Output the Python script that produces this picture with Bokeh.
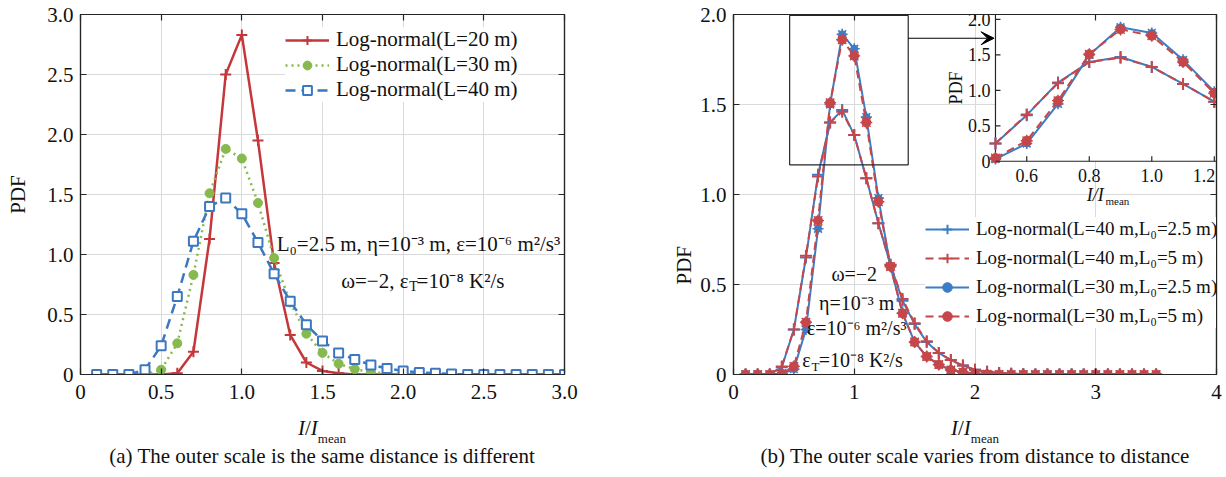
import numpy as np
from bokeh.plotting import figure
from bokeh.layouts import row, column
from bokeh.models import (Range1d, LinearAxis, FixedTicker, CustomJSTickFormatter,
                          Legend, LegendItem, Label, BoxAnnotation, Arrow, VeeHead,
                          Title, Div)
from bokeh.embed import file_html
from bokeh.resources import INLINE

FONT = "Liberation Serif"
INK = "#262626"

# ---------------- data: panel (a) ----------------
xa = [0.1, 0.2, 0.3, 0.4, 0.5, 0.6, 0.7, 0.8, 0.9, 1.0,
      1.1, 1.2, 1.3, 1.4, 1.5, 1.6, 1.7, 1.8, 1.9, 2.0,
      2.1, 2.2, 2.3, 2.4, 2.5, 2.6, 2.7, 2.8, 2.9, 3.0]
pdf_L20 = [0, 0, 0, 0, 0, 0.01, 0.19, 1.13, 2.50, 2.83,
           1.95, 0.93, 0.33, 0.10, 0.03, 0.01, 0, 0, 0, 0,
           0, 0, 0, 0, 0, 0, 0, 0, 0, 0]
pdf_L30 = [0, 0, 0, 0, 0.04, 0.26, 0.83, 1.51, 1.88, 1.80,
           1.43, 0.97, 0.60, 0.34, 0.18, 0.09, 0.045, 0.02, 0.01, 0.005,
           0, 0, 0, 0, 0, 0, 0, 0, 0, 0]
pdf_L40 = [0, 0, 0, 0.04, 0.24, 0.65, 1.11, 1.40, 1.47, 1.34,
           1.10, 0.84, 0.61, 0.415, 0.28, 0.18, 0.125, 0.08, 0.05, 0.03,
           0.017, 0.01, 0.005, 0, 0, 0, 0, 0, 0, 0]
labels_a = ["Log-normal(L=20 m)", "Log-normal(L=30 m)", "Log-normal(L=40 m)"]
ticks_a = [0, 0.5, 1.0, 1.5, 2.0, 2.5, 3.0]
caption_a = "(a) The outer scale is the same distance is different"
note_a1 = "L\u2080=2.5 m, \u03b7=10\u207b\u00b3 m, \u03b5=10\u207b\u2076 m\u00b2/s\u00b3"
note_a2 = ["\u03c9=\u22122, \u03b5", "T", "=10\u207b\u2078 K\u00b2/s"]

# ---------------- data: panel (b) ----------------
xb = [0.1, 0.2, 0.3, 0.4, 0.5, 0.6, 0.7, 0.8, 0.9, 1.0,
      1.1, 1.2, 1.3, 1.4, 1.5, 1.6, 1.7, 1.8, 1.9, 2.0,
      2.1, 2.2, 2.3, 2.4, 2.5, 2.6, 2.7, 2.8, 2.9, 3.0,
      3.1, 3.2, 3.3, 3.4, 3.5]
pdf_L40_L025 = [0, 0, 0, 0.04, 0.25, 0.65, 1.11, 1.40, 1.47, 1.33,
                1.09, 0.84, 0.61, 0.41, 0.28, 0.18, 0.12, 0.08, 0.05, 0.026,
                0.015, 0.008, 0.004, 0.002, 0, 0, 0, 0, 0, 0,
                0, 0, 0, 0, 0]
pdf_L40_L05 = [0, 0, 0, 0.045, 0.25, 0.66, 1.10, 1.40, 1.46, 1.33,
               1.09, 0.84, 0.61, 0.42, 0.285, 0.185, 0.12, 0.08, 0.05, 0.027,
               0.015, 0.008, 0.004, 0.002, 0, 0, 0, 0, 0, 0,
               0, 0, 0, 0, 0]
pdf_L30_L025 = [0, 0, 0, 0.003, 0.03, 0.25, 0.81, 1.50, 1.89, 1.81,
                1.43, 0.98, 0.60, 0.34, 0.18, 0.10, 0.055, 0.025, 0.012, 0.005,
                0.002, 0, 0, 0, 0, 0, 0, 0, 0, 0,
                0, 0, 0, 0, 0]
pdf_L30_L05 = [0, 0, 0, 0.005, 0.045, 0.29, 0.855, 1.51, 1.86, 1.77,
               1.40, 0.96, 0.60, 0.34, 0.18, 0.10, 0.055, 0.025, 0.012, 0.005,
               0.002, 0, 0, 0, 0, 0, 0, 0, 0, 0,
               0, 0, 0, 0, 0]
labels_b = ["Log-normal(L=40 m,L\u2080=2.5 m)", "Log-normal(L=40 m,L\u2080=5 m)",
            "Log-normal(L=30 m,L\u2080=2.5 m)", "Log-normal(L=30 m,L\u2080=5 m)"]
xticks_b = [0, 1, 2, 3, 4]
yticks_b = [0, 0.5, 1.0, 1.5, 2.0]
inset_xticks = [0.6, 0.8, 1.0, 1.2]
inset_yticks = [0, 0.5, 1.0, 1.5, 2.0]
inset_xlim = (0.5, 1.2)
caption_b = "(b) The outer scale varies from distance to distance"
notes_b = ["\u03c9=\u22122", "\u03b7=10\u207b\u00b3 m", "\u03b5=10\u207b\u2076 m\u00b2/s\u00b3"]
note_b4 = ["\u03b5", "T", "=10\u207b\u2078 K\u00b2/s"]

RED = "#C4373B"
GREEN = "#86B94E"
BLUE = "#3B78C0"
BL2 = "#3D7DC5"
RD2 = "#C5474A"

fmt1 = CustomJSTickFormatter(code="return tick == 0 ? '0' : tick.toFixed(1);")
fmt0 = CustomJSTickFormatter(code="return tick.toFixed(0);")
blank = CustomJSTickFormatter(code="return '';")

FIG_H = 416


def make_fig(w, h, xr, yr, bl, br, bt, bb):
    p = figure(width=w, height=h, x_range=Range1d(*xr), y_range=Range1d(*yr),
               output_backend="svg", toolbar_location=None,
               min_border_left=bl, min_border_right=br,
               min_border_top=bt, min_border_bottom=bb)
    p.outline_line_color = INK
    p.outline_line_width = 1.2
    p.background_fill_color = "white"
    p.border_fill_color = "white"
    return p


def cfg_axis(ax, ticks, fmt, size="21px"):
    ax.ticker = FixedTicker(ticks=ticks)
    ax.formatter = fmt
    ax.major_tick_in = 6
    ax.major_tick_out = 0
    ax.minor_tick_line_color = None
    ax.axis_line_color = INK
    ax.axis_line_width = 1.2
    ax.major_tick_line_color = INK
    ax.major_tick_line_width = 1.2
    ax.major_label_text_font = FONT
    ax.major_label_text_font_size = size
    ax.major_label_text_color = "#111111"
    ax.major_label_standoff = 10


def add_mirror(p, xt, yt):
    top = LinearAxis()
    cfg_axis(top, xt, blank, "1px")
    top.major_label_standoff = 0
    p.add_layout(top, "above")
    right = LinearAxis()
    cfg_axis(right, yt, blank, "1px")
    right.major_label_standoff = 0
    p.add_layout(right, "right")


def grid(p, xt, yt):
    p.xgrid.ticker = FixedTicker(ticks=xt)
    p.ygrid.ticker = FixedTicker(ticks=yt)
    for g in (p.xgrid, p.ygrid):
        g.grid_line_color = "#dadada"
        g.grid_line_width = 1


def lab(p, x, y, text, size="21px", align="center", style="normal", angle=0,
        base="middle", xr="default", yr="default"):
    p.add_layout(Label(x=x, y=y, text=text, text_font=FONT, text_font_size=size,
                       text_align=align, text_baseline=base, text_font_style=style,
                       text_color="#111111", angle=angle,
                       x_range_name=xr, y_range_name=yr))


# =============== panel (a) ===============
pa = make_fig(620, FIG_H, (0, 3), (0, 3), 80, 56, 14, FIG_H - 14 - 363)
cfg_axis(pa.xaxis[0], ticks_a, fmt1)
cfg_axis(pa.yaxis[0], ticks_a, fmt1)
pa.yaxis[0].major_label_standoff = 7
pa.yaxis[0].axis_label = "PDF"
pa.yaxis[0].axis_label_text_font = FONT
pa.yaxis[0].axis_label_text_font_size = "21px"
pa.yaxis[0].axis_label_text_font_style = "normal"
pa.yaxis[0].axis_label_text_color = "#111111"
pa.yaxis[0].axis_label_standoff = 14
grid(pa, ticks_a, ticks_a)
add_mirror(pa, ticks_a, ticks_a)

r20 = pa.line(xa, pdf_L20, line_color=RED, line_width=2.5)
m20 = pa.scatter(xa, pdf_L20, marker="cross", size=11, line_color=RED, line_width=2)
r30 = pa.line(xa, pdf_L30, line_color=GREEN, line_width=2.5, line_dash="2 4")
m30 = pa.scatter(xa, pdf_L30, marker="circle", size=9, fill_color=GREEN, line_color=GREEN)
r40 = pa.line(xa, pdf_L40, line_color=BLUE, line_width=2.5, line_dash="10 6")
m40 = pa.scatter(xa, pdf_L40, marker="square", size=9, fill_color="white",
                 line_color=BLUE, line_width=2)

leg_a = Legend(items=[LegendItem(label=labels_a[0], renderers=[r20, m20]),
                      LegendItem(label=labels_a[1], renderers=[r30, m30]),
                      LegendItem(label=labels_a[2], renderers=[r40, m40])],
               location=(205, 272), padding=4, spacing=-3, margin=0,
               glyph_width=44, glyph_height=22, label_height=22, label_standoff=7,
               label_text_font=FONT, label_text_font_size="21px",
               label_text_color="#111111",
               border_line_color=None, background_fill_color="white",
               background_fill_alpha=1.0)
pa.add_layout(leg_a)

lab(pa, 2.095, 1.09, note_a1)
lab(pa, 2.033, 0.78, note_a2[0], align="right")
lab(pa, 2.038, 0.735, note_a2[1], size="14px", align="left")
lab(pa, 2.083, 0.78, note_a2[2], align="left")

# =============== panel (b) ===============
pb = make_fig(606, FIG_H, (0, 4), (0, 2), 113, 10, 14, FIG_H - 14 - 360)
cfg_axis(pb.xaxis[0], xticks_b, fmt0)
cfg_axis(pb.yaxis[0], yticks_b, fmt1)
pb.yaxis[0].major_label_standoff = 7
grid(pb, [1, 2, 3], [0.5, 1.0, 1.5])
add_mirror(pb, xticks_b, yticks_b)
pb.add_layout(Title(text="PDF", align="left", offset=90, vertical_align="bottom",
                    text_font=FONT, text_font_size="21px", text_font_style="normal",
                    text_color="#111111", standoff=4), "left")

# inset coordinate system mapped into the upper-right corner of the frame
IX_HI = 1.207
IY_HI = 2.07
pb.extra_x_ranges = {"ix": Range1d(-0.338, IX_HI)}
pb.extra_y_ranges = {"iy": Range1d(-3.008, IY_HI)}


def draw_b(p, x, ys, xr="default", yr="default"):
    kw = dict(x_range_name=xr, y_range_name=yr)
    a, b, c, d = ys
    ra = p.line(x, a, line_color=BL2, line_width=2, **kw)
    ma = p.scatter(x, a, marker="cross", size=12, line_color=BL2, line_width=2, **kw)
    rb = p.line(x, b, line_color=RD2, line_width=2, line_dash="8 5", **kw)
    mb = p.scatter(x, b, marker="cross", size=12, line_color=RD2, line_width=2, **kw)
    rc = p.line(x, c, line_color=BL2, line_width=2, **kw)
    mc1 = p.scatter(x, c, marker="circle", size=7, fill_color=BL2, line_color=BL2, **kw)
    mc2 = p.scatter(x, c, marker="asterisk", size=11, line_color=BL2, line_width=1.6, **kw)
    rd = p.line(x, d, line_color=RD2, line_width=2, line_dash="8 5", **kw)
    md1 = p.scatter(x, d, marker="circle", size=9, fill_color=RD2, line_color=RD2, **kw)
    md2 = p.scatter(x, d, marker="asterisk", size=12, line_color=RD2, line_width=1.4, **kw)
    return [[ra, ma], [rb, mb], [rc, mc1, mc2], [rd, md1, md2]]


series_b = [pdf_L40_L025, pdf_L40_L05, pdf_L30_L025, pdf_L30_L05]
groups = draw_b(pb, xb, series_b)

# zoom box + arrow
pb.add_layout(BoxAnnotation(left=0.465, right=1.447, bottom=1.165, top=1.995,
                            fill_color=None, fill_alpha=0, line_color=INK, line_width=1.2,
                            line_alpha=1))
pb.add_layout(Arrow(end=VeeHead(size=13, fill_color="black", line_color="black"),
                    x_start=1.447, y_start=1.868, x_end=2.158, y_end=1.868,
                    line_color="black", line_width=1.2))

# inset
xb_arr = np.array(xb)
mask = (xb_arr >= inset_xlim[0] - 1e-9) & (xb_arr <= inset_xlim[1] + 1e-9)
pb.quad(left=[inset_xlim[0]], right=[IX_HI], bottom=[0], top=[IY_HI],
        fill_color="white", line_color=INK, line_width=1.2,
        x_range_name="ix", y_range_name="iy")
draw_b(pb, xb_arr[mask], [np.array(s)[mask] for s in series_b], "ix", "iy")
tx = 5 / 312.5
ty = 5 / 70.5
pb.segment(x0=inset_xticks, y0=[0] * len(inset_xticks), x1=inset_xticks,
           y1=[ty] * len(inset_xticks), line_color=INK, line_width=1.2,
           x_range_name="ix", y_range_name="iy")
pb.segment(x0=[inset_xlim[0]] * len(inset_yticks), y0=inset_yticks,
           x1=[inset_xlim[0] + tx] * len(inset_yticks), y1=inset_yticks,
           line_color=INK, line_width=1.2, x_range_name="ix", y_range_name="iy")
for t in inset_xticks:
    if t == inset_xticks[-1]:
        # last label would spill past the frame edge: keep it inside
        lab(pb, IX_HI - 0.004, -0.20, "%.1f" % t, size="18px", align="right",
            xr="ix", yr="iy")
    else:
        lab(pb, t, -0.20, "%.1f" % t, size="18px", xr="ix", yr="iy")
for t in inset_yticks:
    lab(pb, 0.484, t, "0" if t == 0 else "%.1f" % t, size="18px", align="right",
        xr="ix", yr="iy")
lab(pb, 0.375, 1.035, "PDF", size="18px", angle=np.pi / 2, xr="ix", yr="iy")
lab(pb, 0.846, -0.47, "I/I", size="18px", style="italic", align="right", xr="ix", yr="iy")
lab(pb, 0.852, -0.565, "mean", size="11px", align="left", xr="ix", yr="iy")

leg_b = Legend(items=[LegendItem(label=labels_b[i], renderers=groups[i]) for i in range(4)],
               location=(192, 46), padding=4, spacing=5, margin=0,
               glyph_width=44, glyph_height=24, label_height=24, label_standoff=7,
               label_text_font=FONT, label_text_font_size="19px",
               label_text_color="#111111",
               border_line_color=None, background_fill_color="white",
               background_fill_alpha=1.0)
pb.add_layout(leg_b)

lab(pb, 1.0, 0.556, notes_b[0], size="20px")
lab(pb, 1.02, 0.40, notes_b[1], size="20px")
lab(pb, 1.02, 0.256, notes_b[2], size="20px")
lab(pb, 0.639, 0.078, note_b4[0], size="20px", align="right")
lab(pb, 0.645, 0.045, note_b4[1], size="13px", align="left")
lab(pb, 0.705, 0.078, note_b4[2], size="20px", align="left")


# =============== x-axis labels and captions (HTML, below the plots) ===============
DIV_H = 477 - FIG_H


def caption_div(width, center, caption):
    box = ("position:absolute;left:%dpx;width:500px;text-align:center;"
           "font-size:21px;line-height:24px;white-space:nowrap;") % (center - 250)
    html = ("<div style=\"position:relative;width:%dpx;height:%dpx;"
            "font-family:'Liberation Serif',serif;color:#111111;\">"
            "<div style=\"%stop:%dpx;\"><i>I</i>/<i>I</i>"
            "<span style=\"font-size:13px;position:relative;top:8px;\">mean</span></div>"
            "<div style=\"%stop:%dpx;\">%s</div></div>") % (
        width, DIV_H, box, max(0, 428 - FIG_H - 12), box, 456 - FIG_H - 12, caption)
    return Div(text=html, width=width, height=DIV_H, margin=0)


da = caption_div(620, 322, caption_a)
db = caption_div(606, 355, caption_b)

layout = column(row(pa, pb), row(da, db))
open("out.html", "w").write(file_html(layout, INLINE))
